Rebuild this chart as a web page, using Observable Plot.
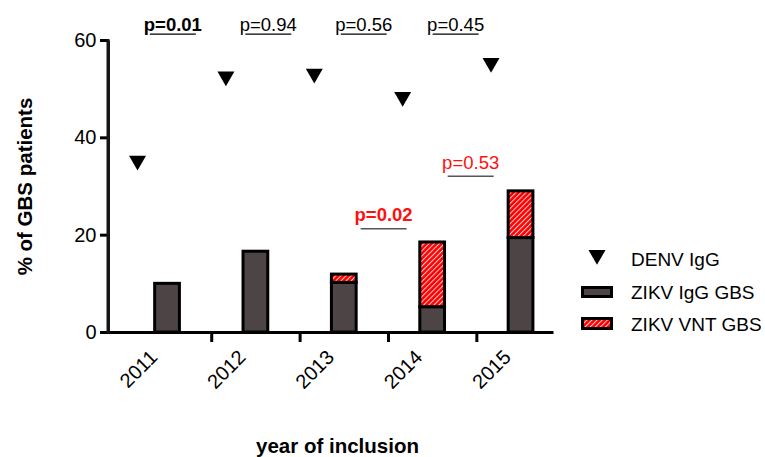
<!DOCTYPE html>
<html><head><meta charset="utf-8">
<script src="https://cdn.jsdelivr.net/npm/d3@7"></script>
<script src="https://cdn.jsdelivr.net/npm/@observablehq/plot@0.6"></script>
<style>body{margin:0;background:#fff}</style>
</head><body><div id="chart"></div>
<script>
// ---- data ----
const years = [2011, 2012, 2013, 2014, 2015];
const denvIgG = [35.3, 52.6, 53.2, 48.4, 55.4];
const zikvIgG = [10.0, 16.6, 10.2, 5.2, 19.4];
const zikvVNT = [0, 0, 1.7, 13.3, 9.6];
const topPLabels = ["p=0.01", "p=0.94", "p=0.56", "p=0.45"];
const topPBold = [true, false, false, false];
const redPLabels = ["p=0.02", "p=0.53"];
const redPBold = [true, false];
const legendLabels = ["DENV IgG", "ZIKV IgG GBS", "ZIKV VNT GBS"];
const yTicks = [0, 20, 40, 60];

// ---- layout (annotation placement) ----
const topPX = [2011.06, 2012.14, 2013.22, 2014.26];
const topPY = 62.0, topLineY = 61.3;
const redPX = [2013.445, 2014.43];
const redPY = [22.9, 33.6];
const redLineY = [21.3, 32.1];
const xDomain = [2010.332, 2015.356];
const yDomain = [0, 60];
const halfBar = 0.14, halfLine = 0.26;

const rows = years.map((year, i) => ({year, denv: denvIgG[i], igg: zikvIgG[i], vnt: zikvVNT[i]}));
const topP = topPLabels.map((t, i) => ({t, x: topPX[i], y: topPY, bold: topPBold[i]}));
const redP = redPLabels.map((t, i) => ({t, x: redPX[i], y: redPY[i], ly: redLineY[i], bold: redPBold[i]}));

const downTri = {
  draw(ctx, size) {
    const y = Math.sqrt(size / (3 * Math.sqrt(3)));
    ctx.moveTo(0, 2 * y);
    ctx.lineTo(-Math.sqrt(3) * y, -y);
    ctx.lineTo(Math.sqrt(3) * y, -y);
    ctx.closePath();
  }
};
const triR = 6.3;
const barFill = "#4d4545";
const axisColor = "#161616";

const chart = Plot.plot({
  width: 765, height: 457,
  marginLeft: 108, marginRight: 213, marginTop: 40, marginBottom: 125,
  style: {fontFamily: "'Liberation Sans', Arial, sans-serif", fontSize: "20px", background: "white"},
  x: {type: "linear", domain: xDomain, axis: null},
  y: {domain: yDomain, axis: null},
  marks: [
    Plot.rect(rows, {x1: d => d.year - halfBar, x2: d => d.year + halfBar, y1: 0, y2: "igg", fill: barFill, stroke: "black", strokeWidth: 3}),
    Plot.rect(rows.filter(d => d.vnt > 0), {x1: d => d.year - halfBar, x2: d => d.year + halfBar, y1: "igg", y2: d => d.igg + d.vnt, fill: "url(#hatch)", stroke: "black", strokeWidth: 3}),
    Plot.dot(rows, {x: "year", y: "denv", symbol: downTri, r: triR, fill: "black", stroke: "none", dx: -30}),
    // axes
    Plot.ruleY([0], {stroke: "black", strokeWidth: 3, strokeLinecap: "square"}),
    Plot.link([0], {x1: xDomain[0], x2: xDomain[0], y1: yDomain[0], y2: yDomain[1], stroke: axisColor, strokeWidth: 3}),
    Plot.axisY({ticks: yTicks, tickSize: 8, tickPadding: 4, strokeWidth: 3, fontSize: 20, fill: "black", label: null}),
    Plot.axisX({ticks: years.slice(0, -1).map(y => y + 0.5), tickSize: 10, strokeWidth: 3, tickFormat: () => "", label: null}),
    Plot.text(years, {x: d => d, text: d => String(d), frameAnchor: "bottom", rotate: -45, textAnchor: "end", dx: -9, dy: 26, fontSize: 20, fill: "black"}),
    // axis titles
    Plot.text(["year of inclusion"], {frameAnchor: "bottom", textAnchor: "middle", dx: 7, dy: 120, lineAnchor: "bottom", fontSize: 20.5, fontWeight: "bold", fill: "black"}),
    Plot.text(["% of GBS patients"], {frameAnchor: "left", textAnchor: "middle", dx: -83, rotate: -90, fontSize: 20.5, fontWeight: "bold", fill: "black"}),
    // p-values
    Plot.text(topP.filter(d => d.bold), {x: "x", y: "y", text: "t", lineAnchor: "bottom", fontSize: 18.5, fontWeight: "bold", fill: "black"}),
    Plot.text(topP.filter(d => !d.bold), {x: "x", y: "y", text: "t", lineAnchor: "bottom", fontSize: 18.5, fill: "black"}),
    Plot.link(topP, {x1: d => d.x - halfLine, x2: d => d.x + halfLine, y1: topLineY, y2: topLineY, stroke: "black", strokeWidth: 1.2}),
    Plot.text(redP.filter(d => d.bold), {x: "x", y: "y", text: "t", lineAnchor: "bottom", fontSize: 18.5, fontWeight: "bold", fill: "#ff1010"}),
    Plot.text(redP.filter(d => !d.bold), {x: "x", y: "y", text: "t", lineAnchor: "bottom", fontSize: 18.5, fill: "#ff1010"}),
    Plot.link(redP, {x1: d => d.x - halfLine, x2: d => d.x + halfLine, y1: "ly", y2: "ly", stroke: "#555", strokeWidth: 1.5})
  ]
});

document.getElementById("chart").appendChild(chart);

const svg = d3.select(chart);
const defs = svg.insert("defs", ":first-child");
const pat = defs.append("pattern").attr("id", "hatch").attr("patternUnits", "userSpaceOnUse")
  .attr("width", 3.6).attr("height", 3.6).attr("patternTransform", "rotate(45)");
pat.append("rect").attr("width", 3.6).attr("height", 3.6).attr("fill", "#ff0000");
pat.append("line").attr("x1", 0.5).attr("y1", 0).attr("x2", 0.5).attr("y2", 3.6).attr("stroke", "#ffd0d0").attr("stroke-width", 1);

// legend
const lg = svg.append("g").attr("font-family", "'Liberation Sans', Arial, sans-serif").attr("font-size", 19).attr("fill", "black").attr("text-anchor", "start");
lg.append("path").attr("d", d3.symbol(downTri, Math.PI * triR * triR)()).attr("transform", "translate(597,255)").attr("fill", "black");
lg.append("rect").attr("x", 582.5).attr("y", 287.5).attr("width", 29).attr("height", 9).attr("fill", barFill).attr("stroke", "black").attr("stroke-width", 3);
lg.append("rect").attr("x", 582.5).attr("y", 318.5).attr("width", 29).attr("height", 10).attr("fill", "url(#hatch)").attr("stroke", "black").attr("stroke-width", 3);
[259, 292, 324].forEach((y, i) => {
  lg.append("text").attr("x", 631).attr("y", y).attr("dy", "0.35em").text(legendLabels[i]);
});

// y-axis line, drawn last, through Plot's own scales
const xs = chart.scale("x"), ys = chart.scale("y");
const ax = xs.apply(xDomain[0]);
svg.append("rect").attr("x", ax - 1.5).attr("y", ys.apply(yDomain[1]) - 1)
  .attr("width", 3).attr("height", ys.apply(yDomain[0]) - ys.apply(yDomain[1]) + 2.5)
  .attr("fill", axisColor);
</script>
</body></html>
